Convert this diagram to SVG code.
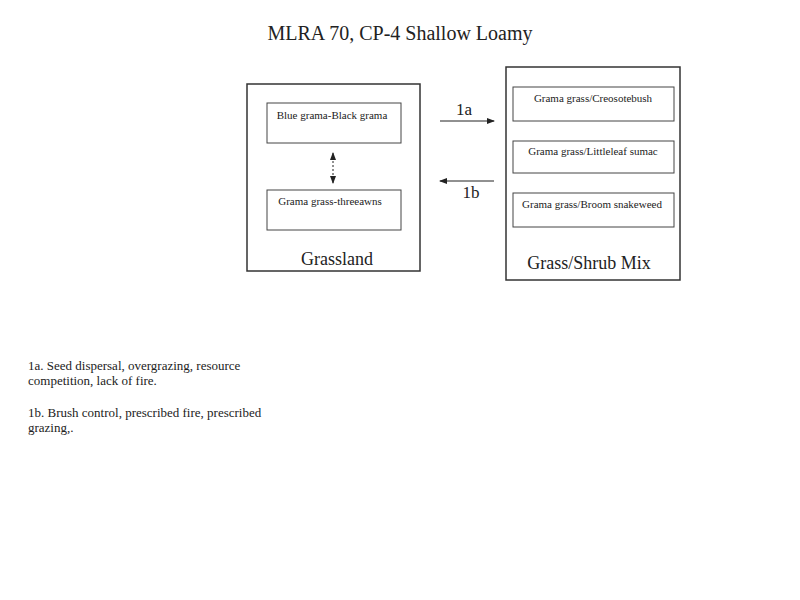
<svg xmlns="http://www.w3.org/2000/svg" width="800" height="600" viewBox="0 0 800 600">
<defs>
<style>
text{font-family:"Liberation Serif","Times New Roman",serif;fill:#222}
.box{fill:#fff;stroke:#333;stroke-width:1.5}
.in{fill:#fff;stroke:#444;stroke-width:1}
.s{font-size:11px;text-anchor:middle}
.big{font-size:18px;text-anchor:middle}
.lab{font-size:17px;text-anchor:middle}
.note{font-size:13px}
.c{stroke:#222;stroke-width:1;fill:none}
</style>
<marker id="ah" markerWidth="8" markerHeight="6" refX="7" refY="3" orient="auto-start-reverse" markerUnits="userSpaceOnUse"><path d="M0,0 L8,3 L0,6 Z" fill="#222"/></marker>
</defs>
<rect width="800" height="600" fill="#fff"/>
<text x="400" y="40" style="font-size:20px;text-anchor:middle">MLRA 70, CP-4 Shallow Loamy</text>
<g id="grassland">
<rect class="box" x="247" y="84" width="173" height="187"/>
<text class="big" x="337" y="265">Grassland</text>
</g>
<g id="blue-grama">
<rect class="in" x="267" y="103" width="134" height="40"/>
<text class="s" x="332" y="119">Blue grama-Black grama</text>
</g>
<g id="grama-threeawns">
<rect class="in" x="267" y="190" width="134" height="40"/>
<text class="s" x="330" y="205">Grama grass-threeawns</text>
</g>
<g id="shrubmix">
<rect class="box" x="506" y="67" width="174" height="213"/>
<text class="big" x="589" y="269">Grass/Shrub Mix</text>
</g>
<g id="creosote">
<rect class="in" x="513" y="87" width="161" height="34"/>
<text class="s" x="593" y="102">Grama grass/Creosotebush</text>
</g>
<g id="sumac">
<rect class="in" x="513" y="141" width="161" height="32"/>
<text class="s" x="593" y="155">Grama grass/Littleleaf sumac</text>
</g>
<g id="snakeweed">
<rect class="in" x="513" y="193" width="161" height="34"/>
<text class="s" x="592" y="208">Grama grass/Broom snakeweed</text>
</g>
<g id="connectors">
<line class="c" x1="333" y1="153" x2="333" y2="183" stroke-dasharray="2,2" marker-start="url(#ah)" marker-end="url(#ah)"/>
<line class="c" x1="440" y1="121" x2="494" y2="121" marker-end="url(#ah)"/>
<text class="lab" x="464" y="115">1a</text>
<line class="c" x1="494" y1="181" x2="440" y2="181" marker-end="url(#ah)"/>
<text class="lab" x="471" y="198">1b</text>
</g>
<text class="note" x="28" y="370">1a. Seed dispersal, overgrazing, resource</text>
<text class="note" x="28" y="385">competition, lack of fire.</text>
<text class="note" x="28" y="417">1b. Brush control, prescribed fire, prescribed</text>
<text class="note" x="28" y="432">grazing,.</text>
</svg>
